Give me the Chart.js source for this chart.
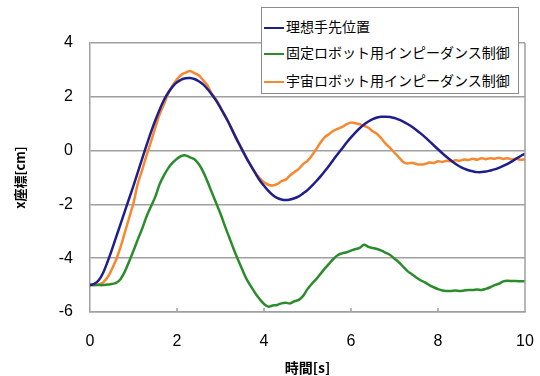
<!DOCTYPE html>
<html>
<head>
<meta charset="utf-8">
<script src="https://cdn.jsdelivr.net/npm/chart.js@4"></script>
<style>
body { margin: 0; background: #fff; }
#wrap { position: relative; width: 540px; height: 376px; }
#legend {
  position: absolute; left: 261px; top: 7px; width: 256px; height: 85px;
  border: 1px solid #8c8c8c; background: #fff;
  font-family: "Noto Sans CJK JP", sans-serif; font-size: 14px; color: #000;
}
#legend .row { position: absolute; left: 2px; height: 20px; line-height: 20px; white-space: nowrap; }
#legend .mark { display: inline-block; width: 20px; height: 2.5px; vertical-align: middle; margin-right: 2px; }
</style>
</head>
<body>
<div id="wrap">
  <canvas id="c" width="540" height="376"></canvas>
  <div id="legend"></div>
</div>
<script>
// time axis, 0.1 s steps (0 .. 10 s)
var times = [];
for (let i = 0; i <= 100; i++) times.push(i / 10);

var names = ["理想手先位置", "固定ロボット用インピーダンス制御", "宇宙ロボット用インピーダンス制御"];
var colors = ["#1e1e8c", "#2b8c2b", "#f7882f"];

// 理想手先位置
var ideal = [
  -5.00, -4.95, -4.82, -4.55, -4.15, -3.70, -3.22, -2.74, -2.26, -1.78,
  -1.30, -0.80, -0.30, 0.20, 0.68, 1.12, 1.52, 1.88, 2.16, 2.38,
  2.54, 2.64, 2.69, 2.70, 2.66, 2.58, 2.46, 2.29, 2.09, 1.86,
  1.59, 1.31, 1.00, 0.66, 0.33, 0.02, -0.28, -0.57, -0.84, -1.10,
  -1.31, -1.50, -1.65, -1.76, -1.82, -1.84, -1.82, -1.77, -1.70, -1.59,
  -1.47, -1.31, -1.14, -0.96, -0.76, -0.55, -0.33, -0.12, 0.09, 0.30,
  0.49, 0.67, 0.83, 0.97, 1.08, 1.17, 1.23, 1.26, 1.26, 1.25,
  1.21, 1.15, 1.08, 0.99, 0.89, 0.77, 0.64, 0.50, 0.35, 0.20,
  0.05, -0.10, -0.24, -0.37, -0.49, -0.59, -0.67, -0.73, -0.77, -0.80,
  -0.80, -0.78, -0.74, -0.70, -0.64, -0.57, -0.49, -0.40, -0.30, -0.20,
  -0.12
];

// 固定ロボット用インピーダンス制御
var fixedRobot = [
  -5.00, -5.00, -5.00, -5.00, -4.98, -4.96, -4.92, -4.78, -4.50, -4.12,
  -3.72, -3.30, -2.90, -2.45, -2.08, -1.72, -1.25, -0.92, -0.65, -0.45,
  -0.30, -0.20, -0.18, -0.25, -0.32, -0.50, -0.78, -1.15, -1.55, -1.95,
  -2.35, -2.80, -3.22, -3.65, -4.05, -4.42, -4.78, -5.05, -5.30, -5.52,
  -5.70, -5.80, -5.76, -5.74, -5.68, -5.66, -5.68, -5.60, -5.55, -5.40,
  -5.15, -4.95, -4.78, -4.58, -4.38, -4.20, -4.02, -3.88, -3.82, -3.78,
  -3.72, -3.66, -3.62, -3.50, -3.58, -3.62, -3.66, -3.72, -3.80, -3.88,
  -4.02, -4.15, -4.32, -4.48, -4.60, -4.72, -4.82, -4.90, -5.00, -5.08,
  -5.15, -5.20, -5.22, -5.22, -5.20, -5.22, -5.20, -5.18, -5.18, -5.16,
  -5.18, -5.14, -5.08, -5.00, -4.95, -4.86, -4.84, -4.85, -4.85, -4.86,
  -4.86
];

// 宇宙ロボット用インピーダンス制御
var spaceRobot = [
  -5.00, -5.00, -4.98, -4.90, -4.72, -4.42, -4.06, -3.60, -3.05, -2.50,
  -1.95, -1.22, -0.72, -0.18, 0.32, 0.85, 1.35, 1.72, 2.12, 2.42,
  2.65, 2.82, 2.90, 2.96, 2.88, 2.80, 2.62, 2.42, 2.12, 1.90,
  1.60, 1.28, 1.00, 0.66, 0.35, 0.05, -0.30, -0.55, -0.82, -1.02,
  -1.18, -1.27, -1.30, -1.25, -1.14, -1.08, -0.92, -0.80, -0.68, -0.50,
  -0.38, -0.18, 0.05, 0.30, 0.50, 0.62, 0.74, 0.82, 0.88, 0.98,
  1.04, 1.02, 0.98, 0.92, 0.85, 0.72, 0.62, 0.45, 0.25, 0.10,
  -0.08, -0.25, -0.42, -0.48, -0.45, -0.50, -0.52, -0.50, -0.44, -0.46,
  -0.40, -0.42, -0.38, -0.40, -0.36, -0.38, -0.33, -0.35, -0.30, -0.34,
  -0.28, -0.32, -0.28, -0.30, -0.27, -0.31, -0.28, -0.33, -0.30, -0.34,
  -0.32
];

var xTicks = [0, 2, 4, 6, 8, 10];
var yTicks = [-6, -4, -2, 0, 2, 4];

function pts(vals) {
  return vals.map(function (v, i) { return { x: times[i], y: v }; });
}

var series = [ideal, fixedRobot, spaceRobot];
var datasets = series.map(function (s, i) {
  return {
    label: names[i],
    data: pts(s),
    borderColor: colors[i],
    borderWidth: 2.5,
    pointRadius: 0,
    tension: 0.3,
    fill: false
  };
});

// right border of plot + small inward ticks on the x axis
var frame = {
  id: "frame",
  afterDraw: function (chart) {
    var ctx = chart.ctx, a = chart.chartArea, xs = chart.scales.x;
    ctx.save();
    ctx.strokeStyle = "#a0a0a0";
    ctx.lineWidth = 1.5;
    ctx.beginPath();
    ctx.moveTo(a.right, a.top);
    ctx.lineTo(a.right, a.bottom);
    xTicks.forEach(function (t) {
      if (t === 0 || t === 10) return;
      var px = xs.getPixelForValue(t);
      ctx.moveTo(px, a.bottom);
      ctx.lineTo(px, a.bottom - 4);
    });
    ctx.stroke();
    ctx.restore();
  }
};

new Chart(document.getElementById("c"), {
  type: "line",
  data: { datasets: datasets },
  options: {
    responsive: false,
    animation: false,
    layout: { padding: { left: 0, right: 15, top: 43, bottom: 0 } },
    plugins: { legend: { display: false }, tooltip: { enabled: false } },
    scales: {
      x: {
        type: "linear",
        min: 0, max: 10,
        afterBuildTicks: function (s) { s.ticks = xTicks.map(function (v) { return { value: v }; }); },
        grid: { display: false },
        border: { display: true, color: "#a0a0a0", width: 1.5 },
        ticks: { color: "#000", padding: 12, font: { family: "Liberation Sans", size: 16 } },
        title: {
          display: true, text: "時間[s]", color: "#000", padding: { top: 2, bottom: 0 },
          font: { family: "Noto Sans CJK JP", size: 14, weight: "bold" }
        },
        afterFit: function (s) { s.height = 64; s.paddingLeft = 0; s.paddingRight = 0; }
      },
      y: {
        min: -6, max: 4,
        afterBuildTicks: function (s) { s.ticks = yTicks.map(function (v) { return { value: v }; }); },
        grid: { color: "#a0a0a0", lineWidth: 1.5, drawTicks: false },
        border: { display: true, color: "#a0a0a0", width: 1.5 },
        ticks: { color: "#000", padding: 17, font: { family: "Liberation Sans", size: 16 } },
        title: {
          display: true, text: "x座標[cm]", color: "#000", padding: { top: 12, bottom: 0 },
          font: { family: "Noto Sans CJK JP", size: 13, weight: "bold" }
        },
        afterFit: function (s) { s.width = 90; }
      }
    }
  },
  plugins: [frame]
});

// legend as html, drawn over the plot like in the original
var lg = document.getElementById("legend");
var rowTops = [8, 34, 62];
names.forEach(function (n, i) {
  var r = document.createElement("div");
  r.className = "row";
  r.style.top = rowTops[i] + "px";
  var m = document.createElement("span");
  m.className = "mark";
  m.style.background = colors[i];
  r.appendChild(m);
  r.appendChild(document.createTextNode(n));
  lg.appendChild(r);
});
</script>
</body>
</html>
